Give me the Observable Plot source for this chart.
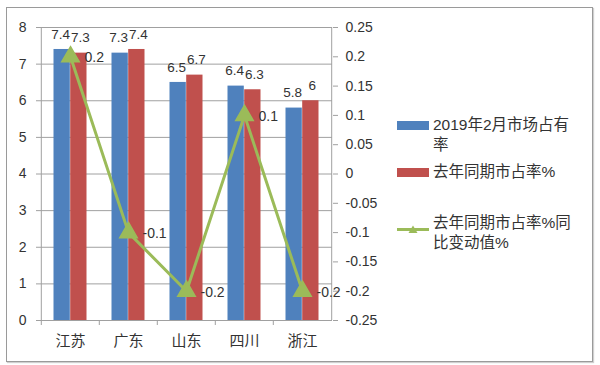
<!DOCTYPE html>
<html>
<head>
<meta charset="utf-8">
<script src="https://cdn.jsdelivr.net/npm/d3@7"></script>
<script src="https://cdn.jsdelivr.net/npm/@observablehq/plot@0.6"></script>
<style>
  html, body { margin: 0; padding: 0; background: #fff; }
  #wrap { position: relative; width: 600px; height: 365px; font-family: "Liberation Sans", "Noto Sans CJK SC", sans-serif; color: #333; }
  #wrap svg { position: absolute; left: 0; top: 0; }
  #border { position: absolute; left: 6px; top: 7px; width: 585px; height: 353px; border: 1px solid #9a9a9a; box-shadow: 1px 1px 1px #d0d0d0; pointer-events: none; }
  .leg { position: absolute; left: 397px; font-size: 15.5px; line-height: 20px; display: flex; align-items: flex-start; }
  .sw { width: 32px; height: 9px; margin-top: 6px; margin-right: 4px; flex: none; position: relative; }
  .txt { width: 150px; }
</style>
</head>
<body>
<div id="wrap"><div id="border"></div></div>
<script>
const categories = ["江苏", "广东", "山东", "四川", "浙江"];
const share2019 = [7.4, 7.3, 6.5, 6.4, 5.8];
const shareLastYear = [7.3, 7.4, 6.7, 6.3, 6];
const changeYoY = [0.2, -0.1, -0.2, 0.1, -0.2];
const leftTicks = [0, 1, 2, 3, 4, 5, 6, 7, 8];
const rightTicks = [-0.25, -0.2, -0.15, -0.1, -0.05, 0, 0.05, 0.1, 0.15, 0.2, 0.25];
const seriesNames = ["2019年2月市场占有率", "去年同期市占率%", "去年同期市占率%同比变动值%"];
const colors = ["#4F81BD", "#C0504D", "#9BBB59"];

const lMin = leftTicks[0], lMax = leftTicks[leftTicks.length - 1];
const rMin = rightTicks[0], rMax = rightTicks[rightTicks.length - 1];
const toLeft = v => (v - rMin) / (rMax - rMin) * (lMax - lMin) + lMin;
const fromLeft = v => (v - lMin) / (lMax - lMin) * (rMax - rMin) + rMin;

const rows = categories.map((c, i) => ({cat: c, a: share2019[i], b: shareLastYear[i], ch: changeYoY[i], chL: toLeft(changeYoY[i])}));

const W = 600, H = 365, mL = 40, mR = 268, mT = 27, mB = 45;
const step = (W - mL - mR) / categories.length;
const half = step / 2;
const barW = 16.7;
const gap = half - barW;
const grid = "#a0a0a0";
const font = "\"Liberation Sans\", \"Noto Sans CJK SC\", sans-serif";

const chart = Plot.plot({
  width: W, height: H,
  marginLeft: mL, marginRight: mR, marginTop: mT, marginBottom: mB,
  style: {fontFamily: font, fontSize: "14px", color: "#333", background: "transparent"},
  x: {domain: categories, padding: 0, axis: null},
  y: {domain: [lMin, lMax], axis: null},
  marks: [
    Plot.gridY(leftTicks, {stroke: grid, strokeOpacity: 1}),
    // axis lines & category boundary ticks
    Plot.ruleX([categories[0]], {dx: -half, stroke: grid, insetBottom: -5}),
    Plot.ruleX([categories[categories.length - 1]], {dx: half, stroke: grid}),
    Plot.ruleX(categories.slice(1), {dx: -half, stroke: grid, insetTop: H - mT - mB, insetBottom: -5}),
    Plot.ruleY([lMin], {stroke: grid}),
    Plot.axisY({anchor: "left", ticks: leftTicks, tickSize: 4, tickPadding: 10, label: null, stroke: grid, fill: "#333", fontSize: 14}),
    Plot.axisY({anchor: "right", ticks: rightTicks.map(toLeft), tickFormat: d => String(+fromLeft(d).toFixed(2)), tickSize: 5, tickPadding: 8, label: null, stroke: grid, fill: "#333", fontSize: 14}),
    Plot.axisX({anchor: "bottom", tickSize: 0, tickPadding: 15, label: null, fill: "#333", fontSize: 15}),
    // bars
    Plot.barY(rows, {x: "cat", y: "a", fill: colors[0], insetLeft: gap, insetRight: half}),
    Plot.barY(rows, {x: "cat", y: "b", fill: colors[1], insetLeft: half, insetRight: gap}),
    Plot.text(rows, {x: "cat", y: "a", text: d => String(d.a), dx: -9.8, dy: -15, fill: "#333", fontSize: 13.5}),
    Plot.text(rows, {x: "cat", y: "b", text: d => String(d.b), dx: 9.8, dy: -15, fill: "#333", fontSize: 13.5}),
    // line
    Plot.line(rows, {x: "cat", y: "chL", stroke: colors[2], strokeWidth: 3}),
    Plot.dot(rows, {x: "cat", y: "chL", symbol: "triangle", r: 6.5, fill: colors[2], stroke: colors[2]}),
    Plot.text(rows, {x: "cat", y: "chL", text: d => String(d.ch), dx: 14, dy: 1, textAnchor: "start", fill: "#333", fontSize: 14})
  ]
});
const wrap = document.getElementById("wrap");
wrap.insertBefore(chart, wrap.firstChild);

// legend
const tops = [115, 162, 213];
seriesNames.forEach((name, i) => {
  const item = document.createElement("div");
  item.className = "leg";
  item.style.top = tops[i] + "px";
  const sw = document.createElement("div");
  sw.className = "sw";
  if (i < 2) {
    sw.style.background = colors[i];
  } else {
    sw.style.height = "9px";
    sw.innerHTML = `<svg width="32" height="9" style="position:static"><line x1="0" x2="32" y1="4.5" y2="4.5" stroke="${colors[2]}" stroke-width="3"/><path d="M16,0.5 L20.5,8 L11.5,8 Z" fill="${colors[2]}"/></svg>`;
  }
  const t = document.createElement("div");
  t.className = "txt";
  t.textContent = name;
  item.appendChild(sw);
  item.appendChild(t);
  wrap.appendChild(item);
});
</script>
</body>
</html>
